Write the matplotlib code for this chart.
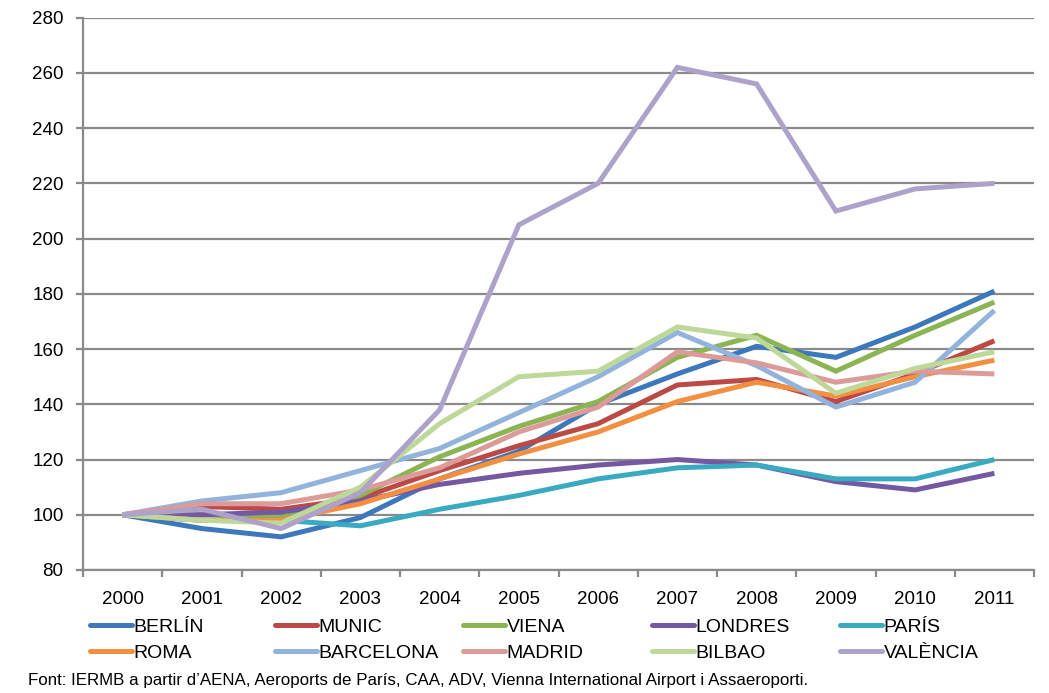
import matplotlib
matplotlib.use('Agg')
import matplotlib.pyplot as plt
from matplotlib.ticker import MultipleLocator

plt.rcParams['font.family'] = ['Liberation Sans', 'DejaVu Sans']

# Index 2000 = 100, passenger traffic by airport city
years = ['2000', '2001', '2002', '2003', '2004', '2005',
         '2006', '2007', '2008', '2009', '2010', '2011']

berlin = [100, 95, 92, 99, 113, 123, 140, 151, 161, 157, 168, 181]
munic = [100, 103, 102, 106, 116, 125, 133, 147, 149, 141, 151, 163]
viena = [100, 100, 99, 107, 121, 132, 141, 157, 165, 152, 165, 177]
londres = [100, 100, 101, 105, 111, 115, 118, 120, 118, 112, 109, 115]
paris = [100, 98, 98, 96, 102, 107, 113, 117, 118, 113, 113, 120]
roma = [100, 98, 98, 104, 113, 122, 130, 141, 148, 143, 150, 156]
barcelona = [100, 105, 108, 116, 124, 137, 150, 166, 154, 139, 148, 174]
madrid = [100, 104, 104, 109, 117, 130, 139, 159, 155, 148, 152, 151]
bilbao = [100, 98, 97, 110, 133, 150, 152, 168, 164, 144, 153, 159]
valencia = [100, 102, 95, 108, 138, 205, 220, 262, 256, 210, 218, 220]

names = ['BERLÍN', 'MUNIC', 'VIENA', 'LONDRES', 'PARÍS',
         'ROMA', 'BARCELONA', 'MADRID', 'BILBAO', 'VALÈNCIA']
series = [berlin, munic, viena, londres, paris,
          roma, barcelona, madrid, bilbao, valencia]
colors = ['#3d77bc', '#bb4a46', '#8bb453', '#7459a2', '#3aaac3',
          '#f28f41', '#92b3dc', '#dc9a98', '#bdd898', '#aea2cb']

grid_col = '#8a8a8a'

fig = plt.figure(figsize=(10.49, 6.93), dpi=100)
ax = fig.add_axes([83 / 1049, 123 / 693, (1034 - 83) / 1049, (570 - 17.7) / 693])

x = list(range(len(years)))
lines = []
for vals, name, col in zip(series, names, colors):
    ln, = ax.plot(x, vals, color=col, lw=3.6, label=name,
                  solid_joinstyle='miter', solid_capstyle='butt')
    lines.append(ln)

ax.set_xlim(-0.5, len(years) - 0.5)
ax.set_ylim(80, 280)
ax.yaxis.set_major_locator(MultipleLocator(20))
ax.set_xticks(x)
ax.set_xticklabels(years)
ax.set_xticks([i - 0.5 for i in range(len(years) + 1)], minor=True)

ax.grid(axis='y', color=grid_col, lw=1.6)
ax.set_axisbelow(True)
for s in ['top', 'right']:
    ax.spines[s].set_visible(False)
for s in ['left', 'bottom']:
    ax.spines[s].set_color(grid_col)
    ax.spines[s].set_linewidth(1.6)

ax.tick_params(axis='x', which='major', length=0, pad=15, labelsize=13.5)
ax.tick_params(axis='x', which='minor', length=5, width=1.6, color=grid_col)
ax.tick_params(axis='y', length=5, width=1.6, color=grid_col, pad=9, labelsize=13.5)

# legend: five fixed-width columns, two rows each
col_x = [90, 275, 463, 652, 840]
for i, cx in enumerate(col_x):
    leg = fig.legend([lines[i], lines[i + 5]], [names[i], names[i + 5]],
                     loc='upper left', bbox_to_anchor=(cx / 1049, 1 - 618 / 693),
                     frameon=False, fontsize=14, handlelength=2.15,
                     handletextpad=0.1, borderpad=0, borderaxespad=0,
                     labelspacing=0.45)
    for h in leg.get_lines():
        h.set_solid_capstyle('round')

fig.text(28 / 1049, 1 - 680 / 693,
         "Font: IERMB a partir d’AENA, Aeroports de París, CAA, ADV, "
         "Vienna International Airport i Assaeroporti.",
         fontsize=12.2, va='center', ha='left')

fig.savefig('out.png', dpi=100)
